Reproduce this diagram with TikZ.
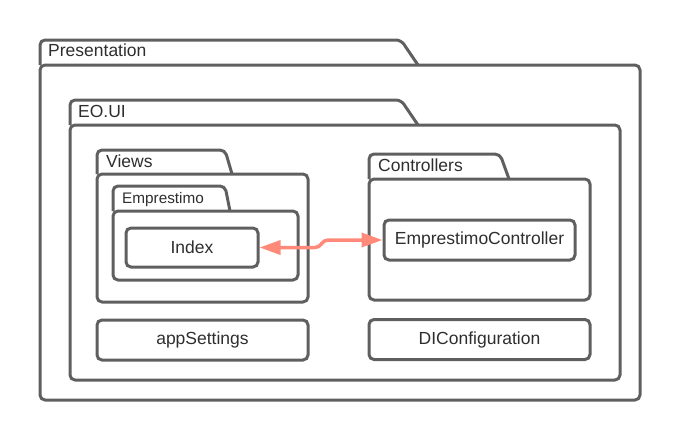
\documentclass[tikz,border=0pt]{standalone}
\usepackage{fontspec}
\setmainfont{Liberation Sans}
\usetikzlibrary{arrows.meta,fit}
\definecolor{ln}{HTML}{5F5F5F}
\definecolor{txt}{HTML}{2E2E2E}
\definecolor{arr}{HTML}{FF8A7A}
\tikzset{
  pkgline/.style={draw=ln, line width=3pt, rounded corners=5pt, line join=round},
  pkgbody/.style={pkgline, inner sep=0pt},
  lbl/.style={anchor=base west, inner sep=0pt, text=txt, font=\fontsize{17.5}{20}\selectfont},
  smalllbl/.style={lbl, font=\fontsize{15.3}{18}\selectfont},
  box/.style={draw=ln, line width=3pt, rounded corners=5pt, inner sep=0pt, text=txt,
     font=\fontsize{17.5}{20}\selectfont},
  conn/.style={draw=arr, line width=3.5pt, rounded corners=4pt,
     {Triangle[length=21pt,width=14pt]}-{Triangle[length=21pt,width=14pt]}}
}
% #1 name, #2 x1, #3 ytab, #4 xtabright, #5 xslant, #6 ybody, #7 x2, #8 y2
\newcommand\pkgdraw[8]{%
  \node[pkgbody, fit={(#2,#6) (#7,#8)}] (#1) {};
  \draw[pkgline] (#2,#6) -- (#2,#3) -- (#4,#3) -- (#5,#6);
}
\begin{document}
\begin{tikzpicture}[x=1pt,y=-1pt]
\useasboundingbox (0,0) rectangle (680,440);
% Presentation
\pkgdraw{pres}{40}{40}{401}{418}{65}{640}{400}
\node[lbl] (presl) at (48,56) {Presentation};
% EO.UI
\pkgdraw{eoui}{70}{100}{401}{418}{125}{620}{380}
\node[lbl] (eouil) at (78,117) {EO.UI};
% Views
\pkgdraw{views}{97}{150}{225}{232}{174}{308}{302}
\node[lbl] (viewsl) at (106,167) {Views};
% Emprestimo
\pkgdraw{empr}{113}{186}{225}{230}{211}{298}{280}
\node[smalllbl] (emprl) at (122,203) {Emprestimo};
% Controllers
\pkgdraw{ctrls}{369}{154}{500}{509}{179}{590}{300}
\node[lbl] (ctrlsl) at (378,171) {Controllers};
% boxes
\node[box, minimum width=132pt, minimum height=39pt] (idx) at (192,247.5) {Index};
\node[box, minimum width=191pt, minimum height=40pt] (ec) at (479.5,240) {EmprestimoController};
\node[box, minimum width=211pt, minimum height=40pt] (app) at (202.5,340) {appSettings};
\node[box, minimum width=221pt, minimum height=40pt] (dic) at (479.5,339.5) {DIConfiguration};
% connector
\draw[conn] (idx.east) -- (319,247.5) -- (324,240) -- (ec.west);
\end{tikzpicture}
\end{document}
